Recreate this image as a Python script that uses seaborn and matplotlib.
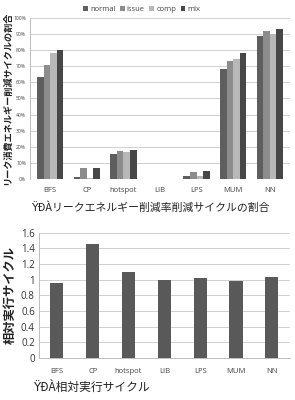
import matplotlib
matplotlib.use("Agg")
import matplotlib.pyplot as plt
import seaborn as sns
import pandas as pd
import numpy as np

categories = ["BFS", "CP", "hotspot", "LIB", "LPS", "MUM", "NN"]
series_names = ["normal", "issue", "comp", "mix"]
normal = [63, 1, 15.5, 0, 2, 68, 89]
issue = [71, 7, 17.5, 0.3, 4.5, 73, 92]
comp = [78, 0.5, 16.5, 0.3, 2, 74.5, 90]
mix = [80, 7, 18, 0.3, 5, 78, 93]
relative_cycles = [0.96, 1.46, 1.10, 1.00, 1.02, 0.98, 1.04]
pct_ticks = list(range(0, 101, 10))
rel_ticks = [0, 0.2, 0.4, 0.6, 0.8, 1, 1.2, 1.4, 1.6]
rel_tick_labels = ["0", "0.2", "0.4", "0.6", "0.8", "1", "1.2", "1.4", "1.6"]

sns.set_theme(style="white")
plt.rcParams['font.family'] = ['Open Sans', 'Noto Sans CJK JP', 'DejaVu Sans']

fig = plt.figure(figsize=(2.95, 4.0), dpi=100)

# ---------- top chart ----------
rows = []
for s, vals in zip(series_names, [normal, issue, comp, mix]):
    for c, v in zip(categories, vals):
        rows.append({"cat": c, "series": s, "val": v})
df = pd.DataFrame(rows)
palette = {"normal": "#5e5e5e", "issue": "#8c8c8c", "comp": "#b8b8b8", "mix": "#474747"}

ax1 = fig.add_axes([0.102, 0.5525, 0.881, 0.403])
sns.barplot(data=df, x="cat", y="val", hue="series", palette=palette,
            width=0.72, ax=ax1, saturation=1, edgecolor="none")
ax1.set_ylim(0, 100)
ax1.set_yticks(pct_ticks)
ax1.set_yticklabels([f"{t}%" for t in pct_ticks], fontsize=3.6, color="#444444")
ax1.tick_params(axis="x", labelsize=5.5, colors="#444444", length=0, pad=6)
ax1.tick_params(axis="y", length=0, pad=3)
ax1.yaxis.grid(True, color="#d0d0d0", linewidth=0.7)
ax1.set_axisbelow(True)
for sp in ["top", "right", "bottom"]:
    ax1.spines[sp].set_visible(False)
ax1.spines["left"].set_color("#bdbdbd")
ax1.spines["left"].set_linewidth(0.7)
ax1.set_xlabel("")
ax1.set_ylabel("リーク消費エネルギー削減サイクルの割合", fontsize=6.6, fontweight="bold",
               family=['Noto Sans CJK JP', 'DejaVu Sans'], labelpad=1, color="#222222")
ax1.set_xlim(-0.55, 6.55)
leg = ax1.legend(loc="lower center", bbox_to_anchor=(0.43, 1.0), ncol=4, frameon=False,
                 fontsize=5.5, handlelength=0.6, handleheight=0.6, handletextpad=0.3,
                 columnspacing=0.6, borderaxespad=0.2)
for t in leg.get_texts():
    t.set_color("#444444")

fig.text(0.51, 0.482, "ŸÐÀリークエネルギー削減率削減サイクルの割合", ha="center", va="center",
         fontsize=7.8, family=['Noto Sans CJK JP', 'DejaVu Sans'], color="#222222")

# ---------- bottom chart ----------
df2 = pd.DataFrame({"cat": categories, "val": relative_cycles})
ax2 = fig.add_axes([0.132, 0.105, 0.85, 0.313])
sns.barplot(data=df2, x="cat", y="val", color="#595959", saturation=1, width=0.37,
            ax=ax2, edgecolor="none")
ax2.set_ylim(0, 1.6)
ax2.set_yticks(rel_ticks)
ax2.set_yticklabels(rel_tick_labels, fontsize=7, color="#333333")
ax2.tick_params(axis="y", length=0, pad=3)
ax2.tick_params(axis="x", labelsize=5.5, colors="#444444", length=0, pad=7)
ax2.set_xticks(np.arange(-0.5, 7.0, 1.0), minor=True)
ax2.tick_params(axis="x", which="minor", length=3, color="#bdbdbd", width=0.7)
ax2.yaxis.grid(True, color="#d0d0d0", linewidth=0.7)
ax2.set_axisbelow(True)
for sp in ["top", "right"]:
    ax2.spines[sp].set_visible(False)
for sp in ["left", "bottom"]:
    ax2.spines[sp].set_color("#bdbdbd")
    ax2.spines[sp].set_linewidth(0.7)
ax2.set_xlim(-0.5, 6.5)
ax2.set_xlabel("")
ax2.set_ylabel("相対実行サイクル", fontsize=8.8, fontweight="bold",
               family=['Noto Sans CJK JP', 'DejaVu Sans'], labelpad=3, color="#222222")

fig.text(0.31, 0.03, "ŸÐÀ相対実行サイクル", ha="center", va="center",
         fontsize=8.5, family=['Noto Sans CJK JP', 'DejaVu Sans'], color="#222222")

fig.savefig("out.png", dpi=100)
